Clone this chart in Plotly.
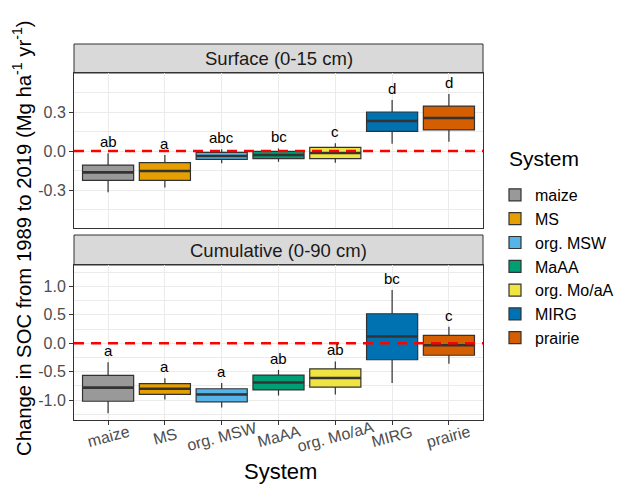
import plotly.graph_objects as go

systems = ["maize", "MS", "org. MSW", "MaAA", "org. Mo/aA", "MIRG", "prairie"]
colors = ["#999999", "#E69F00", "#56B4E9", "#009E73", "#F0E442", "#0072B2", "#D55E00"]

# Surface (0-15 cm)
s_low = [-0.318, -0.280, -0.095, -0.082, -0.090, 0.056, 0.072]
s_q1 = [-0.226, -0.226, -0.064, -0.059, -0.059, 0.151, 0.162]
s_med = [-0.164, -0.154, -0.038, -0.031, -0.015, 0.231, 0.254]
s_q3 = [-0.108, -0.090, -0.010, -0.003, 0.028, 0.300, 0.346]
s_up = [-0.018, -0.031, 0.013, 0.020, 0.059, 0.392, 0.438]
s_letters = ["ab", "a", "abc", "bc", "c", "d", "d"]

# Cumulative (0-90 cm)
c_low = [-1.23, -0.99, -1.13, -0.92, -0.90, -0.70, -0.36]
c_q1 = [-1.02, -0.90, -1.03, -0.82, -0.77, -0.29, -0.21]
c_med = [-0.78, -0.80, -0.90, -0.69, -0.61, 0.12, -0.035]
c_q3 = [-0.563, -0.71, -0.80, -0.56, -0.45, 0.52, 0.14]
c_up = [-0.335, -0.616, -0.70, -0.47, -0.32, 0.94, 0.29]
c_letters = ["a", "a", "a", "ab", "ab", "bc", "c"]

top_ticks = [-0.3, 0.0, 0.3]
top_ticktext = ["-0.3", "0.0", "0.3"]
bot_ticks = [-1.0, -0.5, 0.0, 0.5, 1.0]
bot_ticktext = ["-1.0", "-0.5", "0.0", "0.5", "1.0"]

FONT = "Liberation Sans, Arial, sans-serif"
EDGE = "#333333"
GRID = "#EBEBEB"
BOX_W = 0.9

# page is rendered with an 8px body margin -> work in figure coords (page - 8)
OFF = 8
PL, PR = 74 - OFF, 483 - OFF      # panel left/right in figure px
PT, PB = 44 - OFF, 420 - OFF      # strip top / bottom panel bottom
W, H = 633 - OFF, 486 - OFF
H_plot = float(PB - PT)
W_plot = float(PR - PL)


def py(page_y):
    return (PB - (page_y - OFF)) / H_plot


def px(page_x):
    return ((page_x - OFF) - PL) / W_plot


fig = go.Figure()

panels = [
    ("x", "y", s_low, s_q1, s_med, s_q3, s_up, True),
    ("x2", "y2", c_low, c_q1, c_med, c_q3, c_up, False),
]
for xa, ya, lo, q1, med, q3, up, show in panels:
    for i, name in enumerate(systems):
        fig.add_trace(go.Box(
            x=[i], q1=[q1[i]], median=[med[i]], q3=[q3[i]],
            lowerfence=[lo[i]], upperfence=[up[i]],
            name=name, width=BOX_W, whiskerwidth=0, boxpoints=False,
            fillcolor=colors[i], line=dict(color=EDGE, width=1.2),
            showlegend=show, xaxis=xa, yaxis=ya, hoverinfo="skip",
        ))
    for i, name in enumerate(systems):
        fig.add_trace(go.Scatter(
            x=[i - BOX_W / 2, i + BOX_W / 2], y=[med[i], med[i]],
            mode="lines", line=dict(color=EDGE, width=2.6),
            showlegend=False, xaxis=xa, yaxis=ya, hoverinfo="skip",
        ))

top_dom = [py(228), py(73)]
top_strip = [py(73), 1.0]
bot_dom = [0.0, py(265)]
bot_strip = [py(265), py(235)]

axis_common = dict(
    showline=True, mirror=True, linecolor=EDGE, linewidth=1,
    showgrid=True, gridcolor=GRID, gridwidth=1.1, zeroline=False,
)
tickfont = dict(size=16, color="#4D4D4D", family=FONT)
fig.update_layout(
    xaxis=dict(domain=[0, 1], anchor="y", range=[-0.6, 6.6], tickvals=list(range(7)),
               showticklabels=False, ticks="", **axis_common),
    yaxis=dict(domain=top_dom, anchor="x", range=[-0.592, 0.6], tickvals=top_ticks,
               ticktext=top_ticktext, ticks="outside", ticklen=4, tickcolor=EDGE,
               tickfont=tickfont,
               minor=dict(dtick=0.15, tick0=0, showgrid=True, gridcolor=GRID, gridwidth=0.5),
               **axis_common),
    xaxis2=dict(domain=[0, 1], anchor="y2", range=[-0.6, 6.6], tickvals=list(range(7)),
                showticklabels=False, ticks="outside", ticklen=4, tickcolor=EDGE,
                **axis_common),
    yaxis2=dict(domain=bot_dom, anchor="x2", range=[-1.35, 1.378], tickvals=bot_ticks,
                ticktext=bot_ticktext, ticks="outside", ticklen=4, tickcolor=EDGE,
                tickfont=tickfont,
                minor=dict(dtick=0.25, tick0=0, showgrid=True, gridcolor=GRID, gridwidth=0.5),
                **axis_common),
)

shapes = []
for dom in [top_strip, bot_strip]:
    shapes.append(dict(type="rect", xref="paper", yref="paper", x0=0, x1=1,
                       y0=dom[0], y1=dom[1], fillcolor="#D9D9D9",
                       line=dict(color=EDGE, width=1), layer="below"))
for xa, ya in [("x", "y"), ("x2", "y2")]:
    shapes.append(dict(type="line", xref=xa + " domain", yref=ya,
                       x0=0, x1=1, y0=0, y1=0, layer="above",
                       line=dict(color="#FF0000", width=2.6, dash="10px,7px")))
fig.update_layout(shapes=shapes)

ann = []
for dom, title in [(top_strip, "Surface (0-15 cm)"), (bot_strip, "Cumulative (0-90 cm)")]:
    ann.append(dict(text=title, xref="paper", yref="paper", x=0.5,
                    y=(dom[0] + dom[1]) / 2, xanchor="center", yanchor="middle",
                    showarrow=False, font=dict(size=18.5, color="#1A1A1A", family=FONT)))
for xr, yr, up, letters in [("x", "y", s_up, s_letters), ("x2", "y2", c_up, c_letters)]:
    for i, t in enumerate(letters):
        ann.append(dict(text=t, xref=xr, yref=yr, x=i, y=up[i], xanchor="center",
                        yanchor="middle", yshift=11.5, showarrow=False,
                        font=dict(size=15, color="black", family=FONT)))
for i, name in enumerate(systems):
    ann.append(dict(text=name, xref="x2", yref="paper", x=i, y=py(436),
                    textangle=-15, showarrow=False, xanchor="center", yanchor="middle",
                    font=dict(size=16, color="#4D4D4D", family=FONT)))
ann.append(dict(text="System", xref="paper", yref="paper", x=px(280),
                y=py(471.5), showarrow=False, xanchor="center", yanchor="middle",
                font=dict(size=22, color="black", family=FONT)))
ann.append(dict(text="Change in SOC from 1989 to 2019 (Mg ha<sup>-1</sup> yr<sup>-1</sup>)",
                xref="paper", yref="paper", x=px(22), y=py(238),
                textangle=-90, showarrow=False, xanchor="center", yanchor="middle",
                font=dict(size=20.3, color="black", family=FONT)))
ann.append(dict(text="System", xref="paper", yref="paper", x=px(507), y=py(158),
                showarrow=False, xanchor="left", yanchor="middle",
                font=dict(size=21, color="black", family=FONT)))
fig.update_layout(annotations=ann)

fig.update_layout(
    width=W, height=H,
    margin=dict(l=PL, r=W - PR, t=PT, b=H - PB, autoexpand=False),
    paper_bgcolor="white", plot_bgcolor="white",
    font=dict(family=FONT),
    legend=dict(
        font=dict(size=16, color="black", family=FONT),
        x=px(495), xanchor="left", y=py(178), yanchor="top",
        bgcolor="rgba(0,0,0,0)", tracegroupgap=0,
    ),
)

fig.write_html("out.html")
